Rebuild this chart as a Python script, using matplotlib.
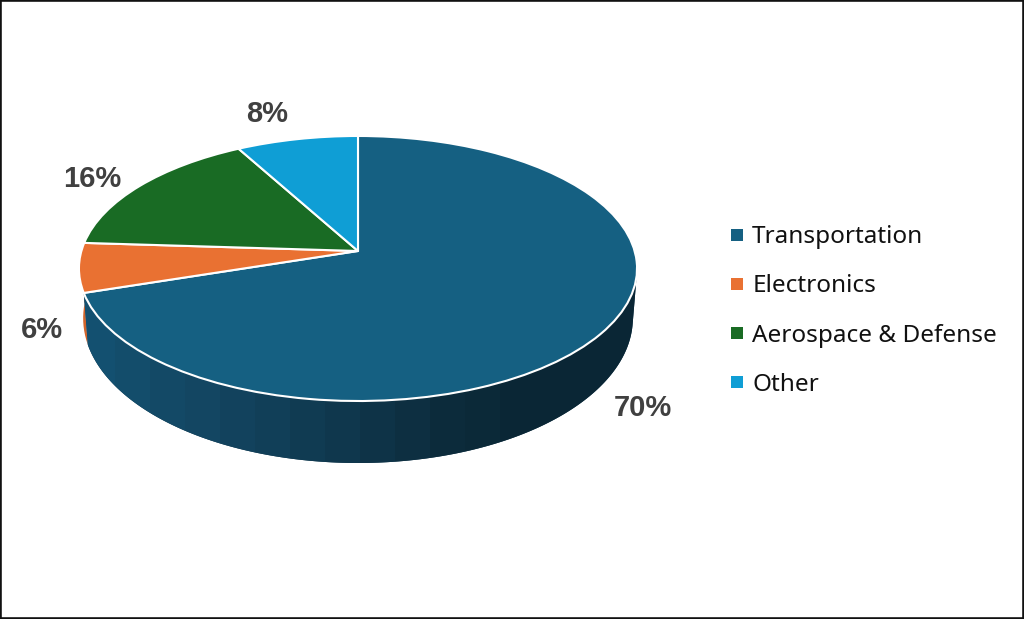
import numpy as np
import matplotlib
matplotlib.use("Agg")
import matplotlib.pyplot as plt
from matplotlib.lines import Line2D
from matplotlib.transforms import Transform

categories = ["Transportation", "Electronics", "Aerospace & Defense", "Other"]
shares = [70, 6, 16, 8]
colors = ["#156082", "#E97132", "#196B24", "#0F9ED5"]
orange_wall = "#D2642A"

# pie geometry, in pixels of the picture
cx, cy = 358, 251
persp_k = 0.132
sx, sy = 276.6, 130.2
wall_scale_x, wall_scale_y = 0.985, 1.093


def project(x, y):
    w = 1 + persp_k * y
    return cx + sx * x / w, cy - sy * y / w


class Tilt(Transform):
    # unit circle -> tilted disc
    input_dims = 2
    output_dims = 2
    is_separable = False
    has_inverted = False

    def transform_non_affine(self, values):
        values = np.asarray(values)
        px, py = project(values[:, 0], values[:, 1])
        return np.column_stack([px, py])


def rims(t):
    top_x, top_y = project(np.sin(t), np.cos(t))
    low_x = cx + (top_x - cx) * wall_scale_x
    low_y = 463 + (top_y - 401) * wall_scale_y
    return top_x, top_y, low_x, low_y


def wall_color(x):
    # side wall gets darker to the right
    stops = [80, 200, 280, 358, 440, 520, 640]
    reds = [0x13, 0x13, 0x11, 0x0F, 0x0C, 0x0A, 0x0A]
    greens = [0x52, 0x46, 0x3E, 0x35, 0x2C, 0x26, 0x26]
    blues = [0x72, 0x62, 0x57, 0x4A, 0x3C, 0x35, 0x35]
    return (np.interp(x, stops, reds) / 255, np.interp(x, stops, greens) / 255, np.interp(x, stops, blues) / 255)


fig = plt.figure(figsize=(10.24, 6.19), dpi=100)
ax = fig.add_axes([0, 0, 1, 1])

wedges, _ = ax.pie(shares, colors=colors, startangle=90, counterclock=False,
                   wedgeprops={"edgecolor": "white", "linewidth": 1.5})
tilt = Tilt()
for w in wedges:
    w.set_transform(tilt + ax.transData)
    w.set_zorder(3)

# side wall, only the front shows. vertical bands clipped to the wall outline
blue_end = np.radians(360 * shares[0] / sum(shares))
t = np.linspace(np.radians(100), blue_end, 200)
tx, ty, lx, ly = rims(t)
wall = ax.fill(np.r_[tx, lx[::-1]], np.r_[ty, ly[::-1]], facecolor=wall_color(358), linewidth=0, zorder=1)[0]
band_edges = np.arange(80, 650, 35)
for x0, x1 in zip(band_edges[:-1], band_edges[1:]):
    band = ax.axvspan(x0, x1, facecolor=wall_color((x0 + x1) / 2), linewidth=0, zorder=1.1)
    band.set_clip_path(wall)

t = np.linspace(blue_end, np.radians(272), 12)
tx, ty, lx, ly = rims(t)
ax.fill(np.r_[tx, lx[::-1]], np.r_[ty, ly[::-1]], facecolor=orange_wall, linewidth=0, zorder=0.5)

pct_pos = [(643, 408.5), (42, 330), (92, 179), (267, 114)]
for share, (px, py) in zip(shares, pct_pos):
    ax.text(px, py, f"{share}%", ha="center", va="center", fontsize=21, fontweight="bold",
            family="Liberation Sans", color="#404040", zorder=5)

ax.set_aspect("auto")
ax.set_xlim(0, 1024)
ax.set_ylim(619, 0)
ax.set_xticks([])
ax.set_yticks([])
ax.set_frame_on(True)
for s in ax.spines.values():
    s.set_linewidth(2.6)
    s.set_color("#111111")

handles = [Line2D([], [], linestyle="none", marker="s", markersize=8, color=c, markeredgewidth=0) for c in colors]
ax.legend(handles, categories, loc="center left", bbox_to_anchor=(725 / 1024, 1 - 311 / 619), frameon=False,
          prop={"family": "Noto Sans", "size": 17.5}, labelcolor="#111111", labelspacing=1.04,
          handlelength=1.0, handletextpad=0.12, borderpad=0, borderaxespad=0)

fig.savefig("out.png", dpi=100)
